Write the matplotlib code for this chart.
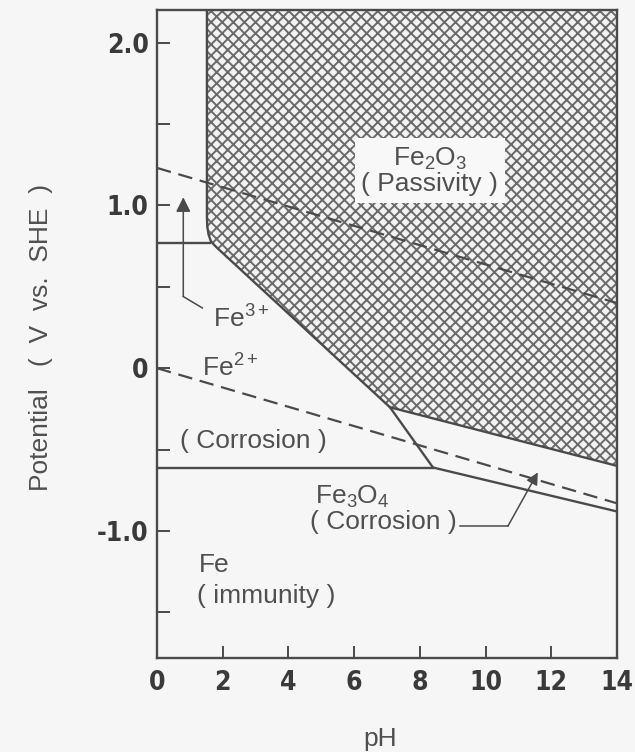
import numpy as np
import matplotlib
matplotlib.use("Agg")
from matplotlib import pyplot as plt
from matplotlib.font_manager import FontProperties

# Pourbaix diagram of iron
ph_ticks = [0, 2, 4, 6, 8, 10, 12, 14]
v_ticks = [-1.0, 0.0, 1.0, 2.0]
v_ticklabels = ["-1.0", "0", "1.0", "2.0"]
v_minor = [-1.5, -0.5, 0.5, 1.5]

# water stability lines (dashed)
o2_ph = [0, 14]
o2_v = [1.23, 0.40]
h2_ph = [0, 14]
h2_v = [0.0, -0.83]

# Fe2O3 (passivity) boundary, top -> rounded corner -> right edge
fe2o3_ph = [1.52, 1.52, 1.53, 1.57, 1.64, 1.75, 1.85, 7.09, 14.0]
fe2o3_v = [2.2, 0.93, 0.87, 0.82, 0.78, 0.755, 0.735, -0.24, -0.60]

# other phase boundaries
fe3_fe2_ph = [0, 1.62]
fe3_fe2_v = [0.77, 0.77]
fe2_fe3o4_ph = [7.09, 8.4]
fe2_fe3o4_v = [-0.24, -0.61]
fe_fe2_ph = [0, 8.4]
fe_fe2_v = [-0.61, -0.61]
fe_fe3o4_ph = [8.4, 14.0]
fe_fe3o4_v = [-0.61, -0.88]

# leader lines
fe3_lead_ph = [1.38, 0.80, 0.80]
fe3_lead_v = [0.37, 0.44, 1.05]
fe3o4_lead_ph = [9.22, 10.68, 11.59]
fe3o4_lead_v = [-0.97, -0.97, -0.64]

bg = "#f6f6f6"
lc = "#4a4a4a"
tc = "#505050"

plt.rcParams["hatch.linewidth"] = 1.4
plt.rcParams["mathtext.fontset"] = "custom"
plt.rcParams["mathtext.rm"] = "Liberation Sans"
plt.rcParams["mathtext.it"] = "Liberation Sans:italic"
plt.rcParams["font.family"] = ["Liberation Sans", "DejaVu Sans"]

fig = plt.figure(figsize=(6.35, 7.52), dpi=100, facecolor=bg)
ax = fig.add_axes([157/635, 1 - 658/752, 460/635, 648/752])
ax.set_facecolor(bg)

# hatched passivity region
poly_ph = fe2o3_ph + [14.0]
poly_v = fe2o3_v + [2.2]
ax.fill(poly_ph, poly_v, facecolor="#f2f2f2", edgecolor="#6a6a6a", hatch="xxx", linewidth=0)

lw = 1.7
ax.plot(fe2o3_ph, fe2o3_v, color=lc, lw=lw)
ax.plot(fe3_fe2_ph, fe3_fe2_v, color=lc, lw=lw)
ax.plot(fe2_fe3o4_ph, fe2_fe3o4_v, color=lc, lw=lw)
ax.plot(fe_fe2_ph, fe_fe2_v, color=lc, lw=lw)
ax.plot(fe_fe3o4_ph, fe_fe3o4_v, color=lc, lw=lw)

ax.plot(o2_ph, o2_v, color=lc, lw=1.6, dashes=(6.5, 3.5))
ax.plot(h2_ph, h2_v, color=lc, lw=1.6, dashes=(6.5, 3.5))

# leaders with arrow heads
ax.plot(fe3_lead_ph[:2], fe3_lead_v[:2], color=lc, lw=1.1)
ax.annotate("", xy=(fe3_lead_ph[2], fe3_lead_v[2]), xytext=(fe3_lead_ph[1], fe3_lead_v[1]),
            arrowprops=dict(arrowstyle="-|>", color=lc, lw=1.1, mutation_scale=22,
                            shrinkA=0, shrinkB=0))
ax.plot(fe3o4_lead_ph[:2], fe3o4_lead_v[:2], color=lc, lw=1.1)
ax.annotate("", xy=(fe3o4_lead_ph[2], fe3o4_lead_v[2]), xytext=(fe3o4_lead_ph[1], fe3o4_lead_v[1]),
            arrowprops=dict(arrowstyle="-|>", color=lc, lw=1.1, mutation_scale=18,
                            shrinkA=0, shrinkB=0))

fs = 19
ax.text(8.3, 1.21, "Fe$_2$O$_3$\n( Passivity )", fontsize=fs, color=tc, ha="center", va="center",
        linespacing=1.0, bbox=dict(boxstyle="square,pad=0.25", fc="#f8f8f8", ec="none"))
ax.text(1.70, 0.25, "Fe$^{3+}$", fontsize=fs, color=tc, va="baseline")
ax.text(1.37, -0.05, "Fe$^{2+}$", fontsize=fs, color=tc, va="baseline")
ax.text(0.70, -0.49, "( Corrosion )", fontsize=fs, color=tc, va="baseline")
ax.text(4.81, -0.83, "Fe$_3$O$_4$", fontsize=fs, color=tc, va="baseline")
ax.text(4.66, -0.99, "( Corrosion )", fontsize=fs, color=tc, va="baseline")
ax.text(1.28, -1.25, "Fe", fontsize=fs, color=tc, va="baseline")
ax.text(1.22, -1.44, "( immunity )", fontsize=fs, color=tc, va="baseline")

ax.set_xlim(0, 14)
ax.set_ylim(-1.78, 2.2)
ax.set_xticks(ph_ticks)
ax.set_yticks(v_ticks)
ax.set_yticklabels(v_ticklabels)
ax.set_yticks(v_minor, minor=True)

tick_fp = FontProperties(family="DejaVu Sans", weight="bold", stretch="condensed", size=19)
for lab in ax.get_xticklabels() + ax.get_yticklabels():
    lab.set_fontproperties(tick_fp)
    lab.set_color("#3a3a3a")

ax.tick_params(which="both", direction="in", length=9, width=1.4, color=lc)
ax.tick_params(axis="x", pad=9)
ax.tick_params(axis="y", pad=6)
for s in ax.spines.values():
    s.set_linewidth(1.7)
    s.set_color(lc)

ax.set_xlabel("pH", fontsize=19, color=tc)
ax.xaxis.set_label_coords(0.485, -0.106)
ax.set_ylabel("Potential   (  V  vs.  SHE  )", fontsize=19, color=tc)
ax.yaxis.set_label_coords(-0.225, 0.494)

fig.savefig("out.png", dpi=100, facecolor=bg)
